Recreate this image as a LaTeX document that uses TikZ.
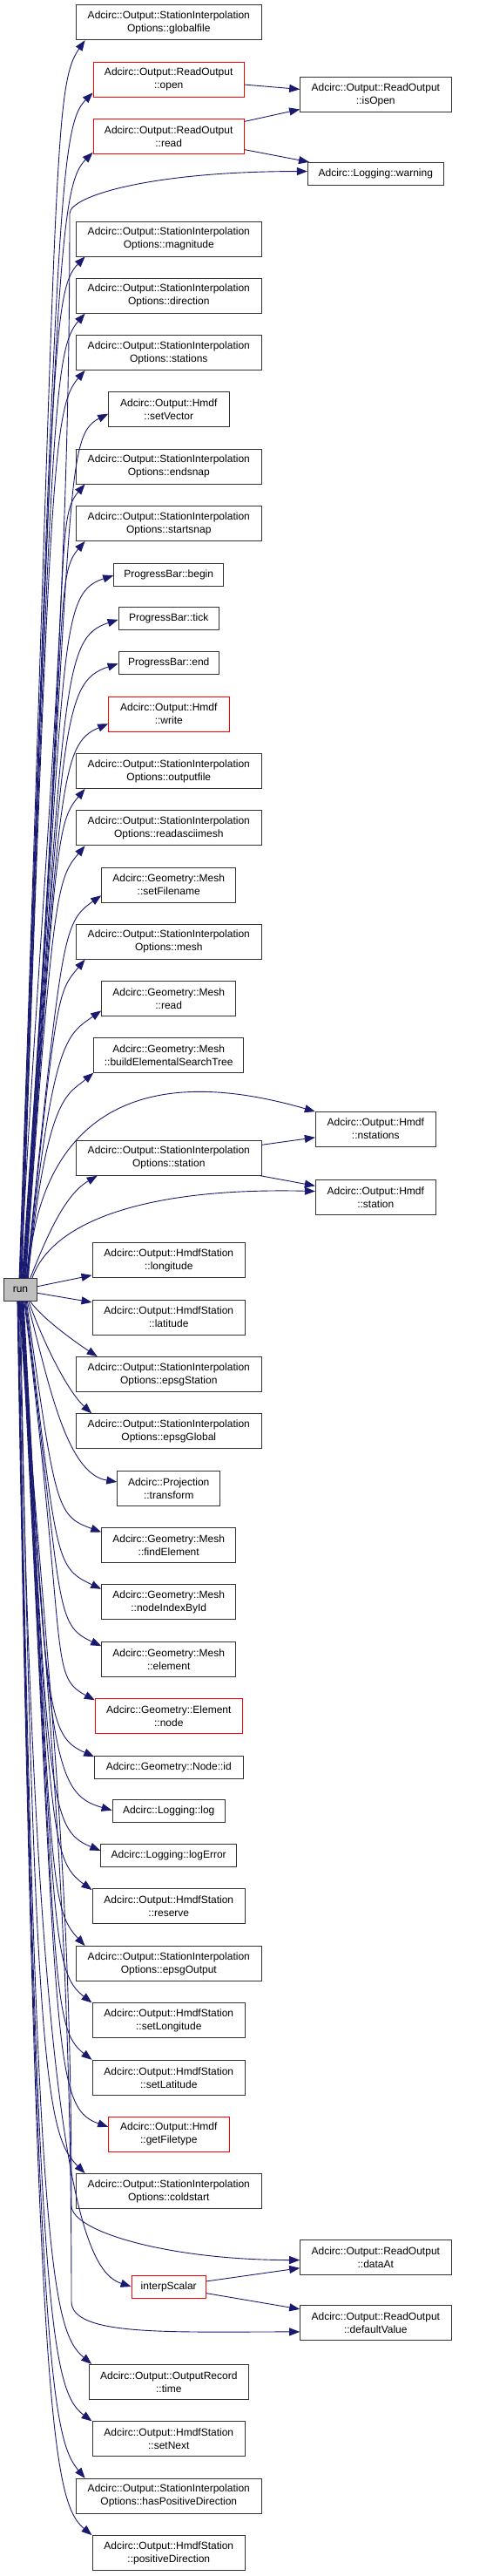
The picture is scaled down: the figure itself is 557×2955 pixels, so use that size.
\documentclass[tikz,border=0pt]{standalone}
\usepackage{fontspec}
\setmainfont{Liberation Sans}
\usetikzlibrary{arrows.meta}
\definecolor{callblue}{HTML}{191970}

\begin{document}
\begin{tikzpicture}[x=1pt, y=-1pt, font=\fontsize{12pt}{15pt}\selectfont,
    fn/.style={draw=black!80, line width=0.9pt, fill=white, inner sep=0pt, align=center, minimum height=40pt},
    fnred/.style={fn, draw=red},
    fnone/.style={minimum height=26pt},
    sio/.style={minimum width=213pt},
    ro/.style={minimum width=173.3pt},
    hmdf/.style={minimum width=138.3pt},
    mesh/.style={minimum width=154pt},
    hst/.style={minimum width=175.7pt},
    call/.style={draw=callblue, line width=0.9pt, -{Triangle[length=12pt,width=9pt]}}]

\useasboundingbox (0,0) rectangle (557,2955);

% Aufgerufene Funktionen (linke Spalte)
\node[fn, sio]   (globalfile)    at (193.8,   25.8) {Adcirc::Output::StationInterpolation\\Options::globalfile};
\node[fnred, ro] (open)          at (193.7,   91.0) {Adcirc::Output::ReadOutput\\::open};
\node[fnred, ro] (read)          at (193.7,  156.3) {Adcirc::Output::ReadOutput\\::read};
\node[fn, sio]   (magnitude)     at (193.8,  274.0) {Adcirc::Output::StationInterpolation\\Options::magnitude};
\node[fn, sio]   (direction)     at (193.8,  339.2) {Adcirc::Output::StationInterpolation\\Options::direction};
\node[fn, sio]   (stations)      at (193.8,  404.5) {Adcirc::Output::StationInterpolation\\Options::stations};
\node[fn, hmdf]  (setvector)     at (193.8,  469.8) {Adcirc::Output::Hmdf\\::setVector};
\node[fn, sio]   (endsnap)       at (193.8,  535.0) {Adcirc::Output::StationInterpolation\\Options::endsnap};
\node[fn, sio]   (startsnap)     at (193.8,  600.5) {Adcirc::Output::StationInterpolation\\Options::startsnap};
\node[fn, fnone, minimum width=126pt]   (pbbegin) at (193.7, 659.0) {ProgressBar::begin};
\node[fn, fnone, minimum width=115.3pt] (pbtick)  at (193.7, 709.8) {ProgressBar::tick};
\node[fn, fnone, minimum width=115.3pt] (pbend)   at (193.7, 760.3) {ProgressBar::end};
\node[fnred, hmdf] (write)       at (193.8,  819.2) {Adcirc::Output::Hmdf\\::write};
\node[fn, sio]   (outputfile)    at (193.8,  884.5) {Adcirc::Output::StationInterpolation\\Options::outputfile};
\node[fn, sio]   (readasciimesh) at (193.8,  949.8) {Adcirc::Output::StationInterpolation\\Options::readasciimesh};
\node[fn, mesh]  (setfilename)   at (193.7, 1015.0) {Adcirc::Geometry::Mesh\\::setFilename};
\node[fn, sio]   (mesh)          at (193.8, 1080.3) {Adcirc::Output::StationInterpolation\\Options::mesh};
\node[fn, mesh]  (meshread)      at (193.7, 1145.7) {Adcirc::Geometry::Mesh\\::read};
\node[fn, minimum width=172pt] (buildtree) at (193.7, 1210.8) {Adcirc::Geometry::Mesh\\::buildElementalSearchTree};
\node[fn, sio]   (station)       at (193.8, 1328.3) {Adcirc::Output::StationInterpolation\\Options::station};
\node[fn, hst]   (longitude)     at (193.8, 1445.7) {Adcirc::Output::HmdfStation\\::longitude};
\node[fn, fnone, fill=black!25, minimum width=38.4pt] (run) at (23.5, 1479.5) {run};
\node[fn, hst]   (latitude)      at (193.8, 1511.0) {Adcirc::Output::HmdfStation\\::latitude};
\node[fn, sio]   (epsgstation)   at (193.8, 1576.5) {Adcirc::Output::StationInterpolation\\Options::epsgStation};
\node[fn, sio]   (epsgglobal)    at (193.8, 1641.8) {Adcirc::Output::StationInterpolation\\Options::epsgGlobal};
\node[fn, minimum width=118pt] (transform) at (193.7, 1707.2) {Adcirc::Projection\\::transform};
\node[fn, mesh]  (findelement)   at (193.7, 1772.5) {Adcirc::Geometry::Mesh\\::findElement};
\node[fn, mesh]  (nodeindex)     at (193.7, 1837.8) {Adcirc::Geometry::Mesh\\::nodeIndexById};
\node[fn, mesh]  (element)       at (193.7, 1903.2) {Adcirc::Geometry::Mesh\\::element};
\node[fnred, minimum width=169pt] (elemnode) at (193.8, 1968.3) {Adcirc::Geometry::Element\\::node};
\node[fn, fnone, minimum width=170.3pt] (nodeid)   at (193.8, 2027.2) {Adcirc::Geometry::Node::id};
\node[fn, fnone, minimum width=129.3pt] (log)      at (193.7, 2077.8) {Adcirc::Logging::log};
\node[fn, fnone, minimum width=156pt]   (logerror) at (193.7, 2128.3) {Adcirc::Logging::logError};
\node[fn, hst]   (reserve)       at (193.8, 2186.8) {Adcirc::Output::HmdfStation\\::reserve};
\node[fn, sio]   (epsgoutput)    at (193.8, 2252.5) {Adcirc::Output::StationInterpolation\\Options::epsgOutput};
\node[fn, hst]   (setlongitude)  at (193.8, 2317.8) {Adcirc::Output::HmdfStation\\::setLongitude};
\node[fn, hst]   (setlatitude)   at (193.8, 2383.2) {Adcirc::Output::HmdfStation\\::setLatitude};
\node[fnred, hmdf] (getfiletype) at (193.8, 2448.3) {Adcirc::Output::Hmdf\\::getFiletype};
\node[fn, sio]   (coldstart)     at (193.8, 2513.5) {Adcirc::Output::StationInterpolation\\Options::coldstart};
\node[fnred, fnone, minimum width=85.3pt] (interp) at (193.7, 2623.0) {interpScalar};
\node[fn, minimum width=183pt] (time) at (193.8, 2732.3) {Adcirc::Output::OutputRecord\\::time};
\node[fn, hst]   (setnext)       at (193.8, 2797.8) {Adcirc::Output::HmdfStation\\::setNext};
\node[fn, sio]   (haspositive)   at (193.8, 2863.2) {Adcirc::Output::StationInterpolation\\Options::hasPositiveDirection};
\node[fn, hst]   (positivedir)   at (193.8, 2928.5) {Adcirc::Output::HmdfStation\\::positiveDirection};

% rechte Spalte
\node[fn, ro]    (isopen)        at (431.3,  108.5) {Adcirc::Output::ReadOutput\\::isOpen};
\node[fn, fnone, minimum width=156pt] (warning) at (431.3, 199.3) {Adcirc::Logging::warning};
\node[fn, minimum width=138pt] (nstations) at (431.3, 1295.0) {Adcirc::Output::Hmdf\\::nstations};
\node[fn, minimum width=138pt] (hstation)  at (431.3, 1373.8) {Adcirc::Output::Hmdf\\::station};
\node[fn, ro]    (dataat)        at (431.3, 2589.5) {Adcirc::Output::ReadOutput\\::dataAt};
\node[fn, ro]    (defaultvalue)  at (431.3, 2664.2) {Adcirc::Output::ReadOutput\\::defaultValue};

% Aufrufe nach oben
\draw[call] (run.96) .. controls +(88:1279pt) and +(235:65pt) .. (globalfile.192);
\draw[call] (run.94) .. controls +(88:1225pt) and +(225:55pt) .. (open.190);
\draw[call] (run.92) .. controls +(88:1163pt) and +(225:55pt) .. (read.192);
\draw[call] (run.90) .. controls +(87:478pt) and +(270:478pt) .. (80,245)
                     .. controls +(90:20pt) and +(180:180pt) .. (warning.178);
\draw[call] (run.88) .. controls +(88:1056pt) and +(226:55pt) .. (magnitude.192);
\draw[call] (run.86) .. controls +(88:997pt) and +(229:55pt) .. (direction.192);
\draw[call] (run.84) .. controls +(88:938pt) and +(229:55pt) .. (stations.192);
\draw[call] (run.82) .. controls +(86:893pt) and +(207:60pt) .. (setvector.184);
\draw[call] (run.80) .. controls +(86:821pt) and +(229:55pt) .. (endsnap.192);
\draw[call] (run.78) .. controls +(86:762pt) and +(229:55pt) .. (startsnap.192);
\draw[call] (run.76) .. controls +(86:726pt) and +(198:70pt) .. (pbbegin.181);
\draw[call] (run.74) .. controls +(86:680pt) and +(198:70pt) .. (pbtick.181);
\draw[call] (run.72) .. controls +(86:635pt) and +(198:70pt) .. (pbend.181);
\draw[call] (run.70) .. controls +(86:573pt) and +(203:60pt) .. (write.189);
\draw[call] (run.68) .. controls +(86:506pt) and +(230:50pt) .. (outputfile.192);
\draw[call] (run.66) .. controls +(86:447pt) and +(230:50pt) .. (readasciimesh.192);
\draw[call] (run.64) .. controls +(84:396pt) and +(215:55pt) .. (setfilename.189);
\draw[call] (run.62) .. controls +(84:330pt) and +(230:50pt) .. (mesh.192);
\draw[call] (run.60) .. controls +(84:276pt) and +(215:50pt) .. (meshread.190);
\draw[call] (run.58) .. controls +(84:212pt) and +(220:40pt) .. (buildtree.193);
\draw[call] (run.56) .. controls (40,1320) and (120,1205) .. (nstations.164);
\draw[call] (run.50) .. controls (55,1415) and (75,1370) .. (station.194);
\draw[call] (run.45) .. controls (60,1400) and (170,1362) .. (hstation.174);
\draw[call] (run.11) -- (longitude.191);
\draw[call] (run.-11) -- (latitude.169);

% Aufrufe nach unten
\draw[call] (run.-50) .. controls +(-55:25pt) and +(147:25pt) .. (epsgstation.166);
\draw[call] (run.-55) .. controls +(-70:60pt) and +(137:35pt) .. (epsgglobal.167);
\draw[call] (run.-60) .. controls +(-75:90pt) and +(171:60pt) .. (transform.173);
\draw[call] (run.-63) .. controls +(-82:240pt) and +(160:55pt) .. (findelement.169);
\draw[call] (run.-66) .. controls +(-83:298pt) and +(155:60pt) .. (nodeindex.169);
\draw[call] (run.-69) .. controls +(-83:356pt) and +(155:60pt) .. (element.169);
\draw[call] (run.-72) .. controls +(-83:412pt) and +(152:60pt) .. (elemnode.168);
\draw[call] (run.-75) .. controls +(-87:472pt) and +(156:60pt) .. (nodeid.172);
\draw[call] (run.-77) .. controls +(-87:526pt) and +(164:70pt) .. (log.179);
\draw[call] (run.-79) .. controls +(-87:568pt) and +(158:65pt) .. (logerror.176);
\draw[call] (run.-81) .. controls +(-87:610pt) and +(144:60pt) .. (reserve.168);
\draw[call] (run.-83) .. controls +(-87:666pt) and +(133:60pt) .. (epsgoutput.168);
\draw[call] (run.-85) .. controls +(-87:725pt) and +(142:60pt) .. (setlongitude.167);
\draw[call] (run.-87) .. controls +(-87:785pt) and +(142:60pt) .. (setlatitude.167);
\draw[call] (run.-89) .. controls +(-87:853pt) and +(161:70pt) .. (getfiletype.173);
\draw[call] (run.-91) .. controls +(-89:901pt) and +(135:60pt) .. (coldstart.168);
\draw[call] (run.-93) .. controls +(-86:410pt) and +(90:410pt) .. (82,2530)
                      .. controls +(-90:30pt) and +(180:150pt) .. (dataat.182);
\draw[call] (run.-95) .. controls +(-89:1017pt) and +(162:55pt) .. (interp.west);
\draw[call] (run.-97) .. controls +(-86:450pt) and +(90:450pt) .. (82,2640)
                      .. controls +(-90:40pt) and +(180:150pt) .. (defaultvalue.187);
\draw[call] (run.-99) .. controls +(-89:1098pt) and +(140:60pt) .. (time.167);
\draw[call] (run.-101) .. controls +(-89:1159pt) and +(143:60pt) .. (setnext.167);
\draw[call] (run.-103) .. controls +(-89:1216pt) and +(130:60pt) .. (haspositive.168);
\draw[call] (run.-105) .. controls +(-89:1276pt) and +(140:60pt) .. (positivedir.167);

% Aufrufe zweiter Ebene
\draw[call] (open.-4) -- (isopen.176);
\draw[call] (read.11) -- (isopen.191);
\draw[call] (read.-10) -- (warning.170);
\draw[call] (station.8) -- (nstations.188);
\draw[call] (station.-11) -- (hstation.169);
\draw[call] (interp.8) -- (dataat.188);
\draw[call] (interp.-10) -- (defaultvalue.170);

\end{tikzpicture}
\end{document}
